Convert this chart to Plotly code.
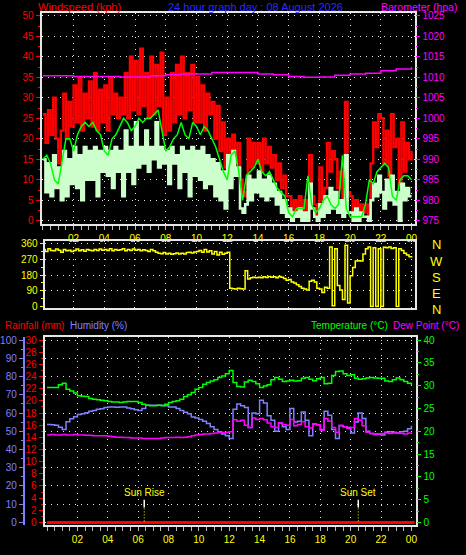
import plotly.graph_objects as go

# ---------------- data ----------------
hours_10min = [i / 6 for i in range(145)]
hours_15min = [i / 4 for i in range(97)]
hours_1h = list(range(25))

wind_gust = [
    26, 19, 27, 21, 30, 20,
    14, 22, 31, 20, 29, 23,
    33, 24, 35, 22, 31, 25,
    34, 23, 36, 22, 32, 24,
    33, 22, 35, 26, 31, 25,
    30, 26, 36, 25, 40, 27,
    39, 26, 42, 28, 36, 25,
    40, 26, 38, 28, 41, 21,
    30, 22, 36, 24, 38, 26,
    40, 25, 36, 27, 38, 24,
    35, 24, 33, 22, 31, 26,
    29, 20, 28, 17, 24, 13,
    20, 9, 21, 14, 19, 10,
    7, 6, 20, 13, 19, 14,
    19, 12, 20, 14, 18, 13,
    16, 10, 14, 8, 11, 6,
    6, 1, 5, 2, 6, 1,
    5, 1, 16, 6, 4, 1,
    13, 5, 8, 19, 12, 17,
    15, 8, 12, 4, 29, 7,
    6, 1, 5, 1, 4, 2,
    4, 1, 14, 24, 18, 26,
    25, 14, 22, 11, 26, 18,
    20, 8, 24, 12, 19, 15,
    17,
]

wind_speed = [
    15, 7, 14, 6, 16, 8,
    13, 5, 17, 6, 15, 9,
    18, 8, 16, 5, 18, 10,
    17, 10, 18, 6, 17, 12,
    18, 11, 17, 8, 18, 12,
    17, 6, 22, 12, 18, 9,
    24, 13, 18, 14, 22, 12,
    18, 15, 24, 13, 18, 14,
    17, 9, 18, 14, 16, 8,
    18, 12, 17, 6, 18, 11,
    17, 10, 18, 8, 16, 9,
    15, 6, 14, 5, 12, 3,
    16, 8, 17, 11, 13, 3,
    2, 4, 11, 5, 10, 7,
    12, 6, 10, 5, 11, 6,
    9, 4, 7, 2, 5, 1,
    3, 0, 2, 1, 3, 0,
    2, 0, 9, 3, 1, 0,
    4, 1, 6, 2, 8, 3,
    7, 2, 5, 1, 16, 2,
    2, 0, 3, 0, 2, 1,
    1, 0, 5, 9, 6, 11,
    7, 3, 10, 5, 11, 4,
    7, 0, 9, 5, 8, 6,
    6,
]

wind_avg = [
    15, 16, 14, 10,
    9, 15, 20, 20,
    17, 21, 23, 24,
    23, 24, 22, 21,
    17, 16, 20, 21,
    23, 25, 24, 22,
    23, 25, 24, 25,
    25, 26, 27, 22,
    17, 18, 20, 21,
    24, 21, 20, 24,
    23, 21, 23, 22,
    20, 18, 15, 12,
    10, 16, 17, 12,
    5, 11, 12, 13,
    15, 12, 11, 12,
    10, 8, 7, 6,
    2, 1, 3, 3,
    3, 11, 4, 2,
    3, 5, 6, 4,
    3, 4, 16, 3,
    1, 1, 1, 1,
    4, 10, 9, 12,
    13, 14, 13, 6,
    5, 10, 11, 11,
    10,
]

barometer = [1010.4, 1010.4, 1010.2, 1010.2, 1010.2, 1010.1, 1010.1, 1010.4,
             1010.6, 1010.8, 1010.8, 1011.2, 1011.2, 1011.2, 1010.8, 1010.6,
             1010.2, 1010.0, 1010.1, 1010.5, 1010.8, 1011.0, 1011.6, 1012.0,
             1012.5]

wind_dir = [
    325, 315, 330, 320, 318, 328,
    322, 310, 326, 318, 322, 315,
    320, 328, 318, 324, 316, 326,
    322, 318, 325, 320, 328, 322,
    325, 320, 330, 318, 325, 322,
    324, 330, 318, 326, 320, 328,
    322, 326, 318, 324, 320, 315,
    325, 318, 310, 305, 302, 308,
    300, 305, 298, 302, 306, 300,
    304, 300, 308, 310, 306, 312,
    315, 320, 310, 325, 312, 318,
    300, 315, 295, 310, 298, 305,
    310, 105, 102, 100, 104, 101,
    100, 204, 157, 165, 168, 165,
    168, 165, 170, 166, 172, 168,
    170, 165, 172, 168, 160, 150,
    155, 140, 135, 125, 115, 105,
    100, 95, 145, 150, 140, 105,
    100, 80, 110, 105, 340, 5,
    330, 120, 95, 40, 350, 20,
    176, 223, 260, 262, 260, 300,
    330, 340, 0, 335, 0, 330,
    0, 338, 335, 340, 332, 336,
    0, 330, 320, 305, 295, 285,
    280,
]

temperature = [
    29.6, 29.6, 29.6, 30.2,
    30.5, 29.2, 28.8, 28.4,
    27.8, 27.7, 27.6, 27.2,
    27.0, 26.9, 26.8, 26.7,
    26.5, 26.4, 26.4, 26.3,
    26.4, 26.5, 26.5, 26.5,
    26.3, 25.9, 25.7, 25.6,
    25.6, 25.7, 25.6, 25.9,
    26.3, 26.5, 26.7, 27.0,
    27.6, 28.0, 28.5, 29.2,
    29.6, 30.3, 30.7, 31.0,
    31.3, 31.8, 32.1, 32.6,
    33.3, 30.7, 29.8, 29.7,
    30.8, 31.2, 30.9, 30.4,
    29.6, 29.9, 30.2, 31.3,
    31.8, 31.4, 30.9, 31.0,
    31.2, 31.0, 31.1, 31.6,
    31.8, 31.4, 31.1, 31.5,
    31.8, 30.4, 30.5, 32.2,
    33.1, 33.2, 32.6, 32.2,
    32.4, 31.6, 31.4, 31.5,
    31.7, 31.8, 31.7, 31.6,
    31.6, 31.0, 30.9, 31.3,
    31.7, 31.3, 30.9, 30.5,
    30.1,
]

humidity = [
    53.7, 53.5, 53.3, 52.2,
    51.0, 55.2, 56.8, 58.0,
    59.2, 59.6, 60.2, 61.0,
    61.4, 62.0, 62.3, 63.0,
    63.3, 63.3, 63.2, 63.3,
    63.3, 62.8, 62.3, 61.8,
    61.4, 62.5, 64.2, 64.2,
    64.2, 64.2, 64.2, 64.0,
    63.3, 63.3, 62.5, 61.4,
    60.4, 59.6, 57.8, 57.2,
    56.4, 55.5, 54.2, 52.5,
    51.0, 49.7, 48.5, 47.5,
    46.0, 62.0, 65.0, 64.0,
    63.0, 52.0, 60.0, 59.6,
    67.0, 65.5, 58.5, 56.0,
    50.0, 54.5, 52.5, 51.0,
    62.5, 55.0, 55.5, 60.5,
    56.0, 47.5, 54.0, 53.5,
    51.0, 61.0, 58.8, 51.0,
    46.0, 53.0, 52.5, 52.0,
    49.0, 55.0, 60.0, 57.0,
    50.0, 48.8, 48.5, 48.3,
    48.0, 49.5, 49.7, 49.5,
    49.0, 49.7, 50.0, 51.3,
    53.0,
]

dew_point = [
    19.2, 19.3, 19.2, 19.2,
    19.3, 19.2, 19.2, 19.3,
    19.2, 19.2, 19.1, 19.1,
    19.0, 19.0, 19.0, 19.0,
    18.9, 18.8, 18.7, 18.7,
    18.6, 18.6, 18.5, 18.5,
    18.5, 18.4, 18.4, 18.4,
    18.4, 18.4, 18.5, 18.6,
    18.6, 18.6, 18.7, 18.6,
    18.7, 18.8, 19.0, 19.2,
    19.3, 19.4, 19.4, 19.5,
    19.6, 19.7, 19.7, 19.8,
    19.9, 22.5, 22.2, 22.4,
    21.3, 20.8, 22.9, 22.6,
    22.8, 22.5, 21.8, 21.0,
    20.8, 21.8, 21.5, 21.3,
    22.6, 21.2, 21.5, 22.1,
    21.0, 20.7, 21.6, 21.4,
    20.2, 22.8, 22.2, 20.8,
    19.8, 21.3, 21.0, 20.6,
    20.8, 22.8, 22.4, 21.2,
    19.8, 19.5, 19.3, 19.4,
    19.5, 19.6, 19.5, 19.6,
    19.6, 19.5, 19.4, 19.6,
    19.7,
]

rain_times = [0, 24.2]
rainfall = [0, 0]

sun_labels = ["Sun Rise", "Sun Set"]
sun_hours = [6.4, 20.5]

hour_ticks = [2, 4, 6, 8, 10, 12, 14, 16, 18, 20, 22, 24]
hour_labels = ["02", "04", "06", "08", "10", "12", "14", "16", "18", "20", "22", "00"]
wind_ticks = list(range(0, 51, 5))
baro_ticks = list(range(975, 1026, 5))
dir_ticks = [0, 90, 180, 270, 360]
compass_labels = ["N", "W", "S", "E", "N"]
rain_ticks = list(range(0, 31, 2))
hum_ticks = list(range(0, 101, 10))
temp_ticks = list(range(0, 41, 5))

# ---------------- styling ----------------
W, H = 466, 555
FONT = "Liberation Sans"
FRAME = "#e6e6e6"
GRID = "#e6e6e6"
DOT = "1px,5px"
RED = "#ff0000"
MAG = "#ff00ff"
YEL = "#ffff00"
GRN = "#00ff00"
PALE = "#ccffcc"
BLUE = "#8080ff"
TITLEBLUE = "#2a2aff"


def fx(p):
    return p / W


def fy(p):
    return 1 - p / H


fig = go.Figure()

# top panel
fig.add_trace(go.Scatter(x=hours_10min, y=wind_gust, mode="lines", line=dict(color=RED, width=2.4, shape="hv"),
                         xaxis="x", yaxis="y"))
fig.add_trace(go.Scatter(x=hours_10min, y=wind_speed, mode="lines", line=dict(color=PALE, width=2.6, shape="hv"),
                         xaxis="x", yaxis="y"))
fig.add_trace(go.Scatter(x=hours_15min, y=wind_avg, mode="lines", line=dict(color=GRN, width=1.5, shape="linear"),
                         xaxis="x", yaxis="y"))
fig.add_trace(go.Scatter(x=hours_1h, y=barometer, mode="lines", line=dict(color=MAG, width=1.5, shape="hv"),
                         xaxis="x", yaxis="y2"))
# middle panel
fig.add_trace(go.Scatter(x=hours_10min, y=wind_dir, mode="lines", line=dict(color=YEL, width=1.5, shape="hv"),
                         xaxis="x2", yaxis="y3"))
# bottom panel
fig.add_trace(go.Scatter(x=rain_times, y=rainfall, mode="lines", line=dict(color=RED, width=3),
                         xaxis="x3", yaxis="y4"))
fig.add_trace(go.Scatter(x=hours_15min, y=humidity, mode="lines", line=dict(color=BLUE, width=1.5, shape="hv"),
                         xaxis="x3", yaxis="y5"))
fig.add_trace(go.Scatter(x=hours_15min, y=dew_point, mode="lines", line=dict(color=MAG, width=1.5, shape="hv"),
                         xaxis="x3", yaxis="y6"))
fig.add_trace(go.Scatter(x=hours_15min, y=temperature, mode="lines", line=dict(color=GRN, width=1.5, shape="hv"),
                         xaxis="x3", yaxis="y6"))


def xaxis_common(domain, rng, anchor, labels=True):
    d = dict(domain=domain, range=rng, anchor=anchor, tickmode="array", tickvals=hour_ticks,
             ticktext=hour_labels, showticklabels=labels,
             tickfont=dict(color=YEL, size=10, family=FONT),
             showgrid=True, gridcolor=GRID, griddash=DOT, gridwidth=1,
             showline=True, mirror=True, linecolor=FRAME, linewidth=2, zeroline=False, fixedrange=True)
    if labels:
        d.update(ticks="outside", ticklen=4, tickcolor="#bdbdbd", tickwidth=1,
                 minor=dict(dtick=0.5, tick0=0, ticks="outside", ticklen=4, tickcolor="#bdbdbd", showgrid=False))
    else:
        d.update(ticks="")
    return d


def yaxis_common(rng, tickvals, color, minor_dtick, **kw):
    d = dict(range=rng, tickmode="array", tickvals=tickvals,
             tickfont=dict(color=color, size=10, family=FONT),
             ticks="outside", ticklen=4, tickcolor=color, tickwidth=1,
             minor=dict(dtick=minor_dtick, tick0=0, ticks="outside", ticklen=2, tickcolor=color, showgrid=False),
             zeroline=False, fixedrange=True)
    d.update(kw)
    return d


fig.update_layout(
    width=W, height=H, margin=dict(l=0, r=0, t=0, b=0),
    paper_bgcolor="#000000", plot_bgcolor="#000000", showlegend=False,
    font=dict(family=FONT, size=10, color="#ffffff"),
    xaxis=xaxis_common([fx(40), fx(417)], [-0.08, 24.25], "y"),
    xaxis2=xaxis_common([fx(43), fx(417)], [0.12, 24.25], "y3", labels=False),
    xaxis3=xaxis_common([fx(43), fx(418)], [-0.16, 24.33], "y4"),
    yaxis=yaxis_common([-0.72, 50.72], wind_ticks, RED, 2.5, domain=[fy(224), fy(10)], anchor="x",
                       showgrid=True, gridcolor=GRID, griddash=DOT, gridwidth=1,
                       showline=True, mirror=True, linecolor=FRAME, linewidth=2),
    yaxis2=yaxis_common([974.28, 1025.72], baro_ticks, MAG, 2.5, overlaying="y", side="right", anchor="x",
                        showgrid=False, showline=False),
    yaxis3=yaxis_common([-5.6, 376.9], dir_ticks, YEL, 45, domain=[fy(309), fy(241)], anchor="x2",
                        showgrid=True, gridcolor=GRID, griddash=DOT, gridwidth=1,
                        showline=True, mirror=True, linecolor=FRAME, linewidth=2, ticklen=3),
    yaxis4=yaxis_common([-0.486, 30.486], rain_ticks, RED, 1, domain=[fy(530), fy(339)], anchor="x3",
                        showgrid=False, showline=True, mirror=True, linecolor=FRAME, linewidth=2),
    yaxis5=yaxis_common([-1.62, 101.62], hum_ticks, BLUE, 5, overlaying="y4", anchor="free", position=fx(22),
                        side="left", showgrid=True, gridcolor=GRID, griddash=DOT, gridwidth=1,
                        showline=True, linecolor=BLUE, linewidth=2),
    yaxis6=yaxis_common([-0.649, 40.649], temp_ticks, GRN, 2.5, overlaying="y4", anchor="x3", side="right",
                        showgrid=False, showline=False),
)

ann = []


def text(x, y, s, color, size=11, xanchor="center", xref="paper"):
    ann.append(dict(x=x, y=y, xref=xref, yref="paper", text=s, showarrow=False, xanchor=xanchor,
                    yanchor="middle", font=dict(family=FONT, size=size, color=color)))


text(fx(34), fy(4.5), "Windspeed (kph)", RED, xanchor="left")
text(fx(256), fy(4.5), "24 hour graph day : 08 August 2026", TITLEBLUE)
text(fx(461), fy(4), "Barometer (hpa)", MAG, size=10.5, xanchor="right")
text(fx(1), fy(327), "Rainfall (mm)", RED, size=10, xanchor="left")
text(fx(67), fy(327), "Humidity (%)", BLUE, size=10, xanchor="left")
text(fx(391), fy(327), "Temperature (°C)", GRN, size=10, xanchor="right")
text(fx(392), fy(327), "Dew Point (°C)", MAG, size=10, xanchor="left")

for lbl, yp in zip(compass_labels, [245, 262, 278.5, 295, 310.5]):
    text(fx(438.5), fy(yp), lbl, YEL, size=13)

shapes = []
for lbl, h in zip(sun_labels, sun_hours):
    text(h, fy(497), lbl, YEL, size=10, xref="x3")
    shapes.append(dict(type="line", xref="x3", yref="paper", x0=h, x1=h, y0=fy(512), y1=fy(504),
                       line=dict(color="#ffffff", width=1.5)))
    shapes.append(dict(type="line", xref="x3", yref="paper", x0=h, x1=h, y0=fy(526), y1=fy(512),
                       line=dict(color=YEL, width=1, dash="1px,2px")))

fig.update_layout(annotations=ann, shapes=shapes)

fig.write_html(
    "out.html",
    config={"displayModeBar": False},
    post_script="document.body.style.margin='0';document.body.style.padding='0';"
                "document.body.style.overflow='hidden';document.body.style.background='#000';",
)
